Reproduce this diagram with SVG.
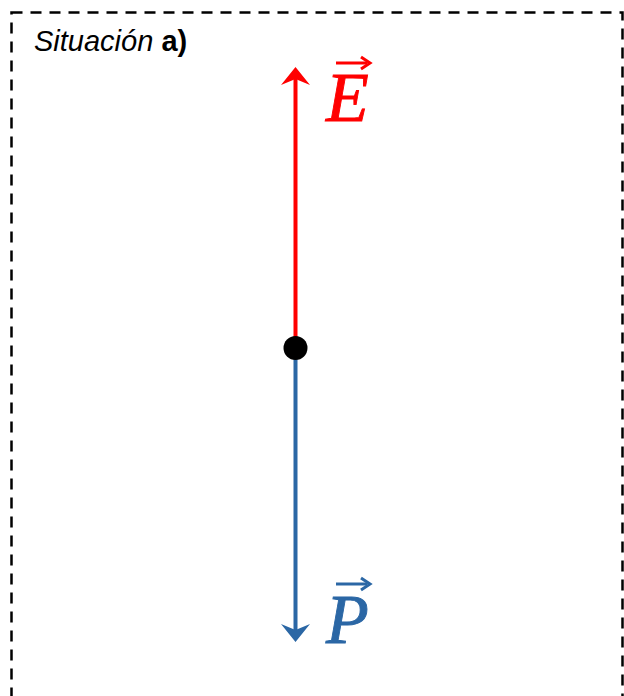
<svg xmlns="http://www.w3.org/2000/svg" width="624" height="696" viewBox="0 0 624 696">
<style>
.frame{fill:none;stroke:#000;stroke-width:2.5;stroke-dasharray:11 8}
.title{font-family:"Liberation Sans",Arial,sans-serif;font-size:29px;fill:#000}
.vec{font-family:"Liberation Serif","Times New Roman",serif;font-style:italic;font-size:70px;stroke-width:0.9}
.red{fill:#FF0000;stroke:#FF0000}
.blue{fill:#2B67A5;stroke:#2B67A5}
.shaft{fill:none;stroke-width:4}
.acc{fill:none;stroke-width:3}
</style>
<rect class="frame" x="11.5" y="12.5" width="611" height="720"/>
<text class="title" x="34" y="51"><tspan font-style="italic">Situación</tspan> <tspan font-weight="bold">a)</tspan></text>
<g id="connectors">
<g id="force-E">
<line class="shaft" x1="295.5" y1="340" x2="295.5" y2="78" stroke="#FF0000"/>
<path d="M295.5,67 L310,85 L295.5,79 L281,85 Z" fill="#FF0000"/>
</g>
<g id="force-P">
<line class="shaft" x1="295.5" y1="356" x2="295.5" y2="632" stroke="#2B67A5"/>
<path d="M295.5,642 L310,624 L295.5,630 L281,624 Z" fill="#2B67A5"/>
</g>
</g>
<g id="point">
<circle cx="295.5" cy="348" r="12" fill="#000"/>
</g>
<g id="E">
<text class="vec red" x="326" y="121">E</text>
<line x1="336" y1="63" x2="367" y2="63" stroke="#FF0000" stroke-width="3"/>
<path class="acc" d="M361,57 L370,63 L361,69" stroke="#FF0000"/>
</g>
<g id="P">
<text class="vec blue" x="326" y="643">P</text>
<line x1="336" y1="584" x2="367" y2="584" stroke="#2B67A5" stroke-width="3"/>
<path class="acc" d="M361,578 L370,584 L361,590" stroke="#2B67A5"/>
</g>
</svg>
